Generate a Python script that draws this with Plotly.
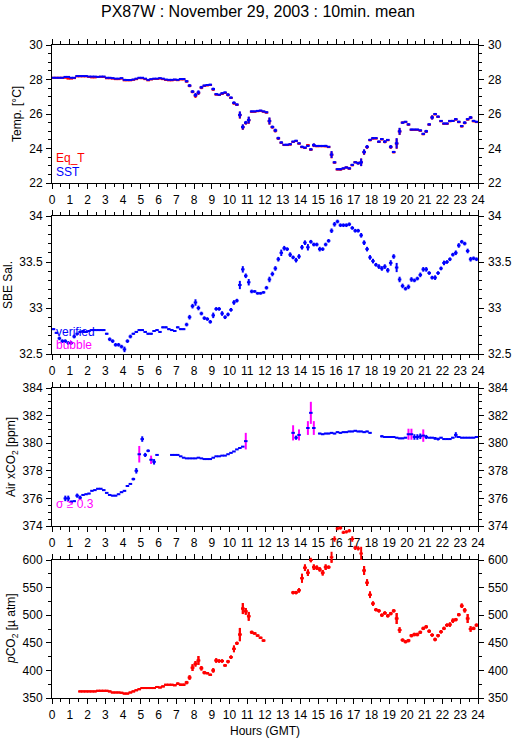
import plotly.graph_objects as go

# ---------------- data (10-min means, hours GMT) ----------------
hours = [round((i + 0.5) / 6, 4) for i in range(144)]
hour_ticks = list(range(0, 25))

sst = [28.10, 28.10, 28.10, 28.10, 28.15, 28.15, 28.10, 28.10, 28.20, 28.20, 28.20, 28.20,
       28.17, 28.17, 28.17, 28.15, 28.17, 28.17, 28.10, 28.10, 28.08, 28.05, 28.05, 28.08,
       27.98, 27.97, 27.97, 28.00, 28.05, 28.10, 28.10, 28.05, 27.98, 28.02, 28.05, 28.05,
       28.08, 28.05, 28.00, 27.98, 27.98, 28.00, 27.98, 28.03, 28.03, 27.90, 27.65, 27.30,
       27.10, 27.25, 27.55, 27.65, 27.68, 27.70, 27.45, 27.15, 27.12, 27.20, 27.25, 27.12,
       26.95, 26.65, 26.55, 25.95, 25.25, 25.50, 25.65, 26.15, 26.15, 26.18, 26.20, 26.15,
       26.10, 25.60, 25.25, 25.05, 24.60, 24.35, 24.22, 24.22, 24.25, 24.40, 24.45, 24.30,
       24.10, 24.05, 24.15, 23.95, 24.20, 24.15, 24.15, 24.15, 24.15, 24.10, 23.65, 23.20,
       22.80, 22.80, 22.85, 22.90, 22.85, 23.05, 23.20, 23.15, 23.20, 23.80, 24.10, 24.50,
       24.60, 24.60, 24.40, 24.55, 24.40, 24.50, 24.10, 23.80, 24.30, 25.00, 25.50, 25.55,
       25.40, 25.10, 25.10, 25.10, 25.05, 24.85, 25.00, 25.40, 25.80, 26.00, 25.85, 25.60,
       25.45, 25.45, 25.60, 25.60, 25.70, 25.55, 25.30, 25.50, 25.70, 25.80, 25.60, 25.55]

eq_t = [28.10, 28.10, 28.10, 28.10, 28.10, 28.05, 28.05, 28.08, 28.18, 28.18, 28.18, 28.18,
        28.15, 28.12, 28.12, 28.15, 28.15, 28.15, 28.07, 28.07, 28.05, 28.02, 28.02, 28.05,
        27.95, 27.95, 27.95, 27.98, 28.02, 28.08, 28.07, 28.02, 27.95, 28.00, 28.03, 28.03,
        28.05, 28.02, 27.97, 27.95, 27.95, 27.98, 27.96, 28.00, 28.00, 27.88, 27.63, 27.28,
        27.05, 27.22, 27.52, 27.63, 27.66, 27.68, 27.42, 27.13, 27.10, 27.17, 27.22, 27.10,
        26.93, 26.62, 26.53, 25.93, 25.23, 25.48, 25.63, 26.13, 26.13, 26.16, 26.18, 26.13,
        26.08, 25.58, 25.23, 25.03, 24.58, 24.33, 24.20, 24.20, 24.23, 24.38, 24.43, 24.28,
        24.08, 24.03, 24.20, 23.93, 24.18, 24.13, 24.13, 24.13, 24.13, 24.08, 23.63, 23.18,
        22.78, 22.78, 22.83, 22.90, 22.83, 23.03, 23.20, 23.15, 23.20, 23.78, 24.08, 24.48,
        24.58, 24.58, 24.38, 24.53, 24.38, 24.48, 24.08, 23.78, 24.28, 24.98, 25.50, 25.53,
        25.38, 25.08, 25.08, 25.08, 25.03, 24.83, 24.98, 25.38, 25.80, 25.98, 25.83, 25.58,
        25.43, 25.43, 25.58, 25.60, 25.68, 25.53, 25.28, 25.48, 25.68, 25.78, 25.58, 25.53]

temp_std = [
    0.02, 0.02, 0.02, 0.02, 0.02, 0.02, 0.02, 0.02, 0.02, 0.02, 0.02, 0.02,
    0.02, 0.02, 0.02, 0.02, 0.02, 0.02, 0.02, 0.02, 0.02, 0.02, 0.02, 0.02,
    0.02, 0.02, 0.02, 0.02, 0.02, 0.02, 0.02, 0.02, 0.02, 0.02, 0.02, 0.02,
    0.02, 0.02, 0.02, 0.02, 0.02, 0.02, 0.02, 0.02, 0.02, 0.06, 0.08, 0.08,
    0.12, 0.12, 0.08, 0.05, 0.05, 0.05, 0.08, 0.06, 0.05, 0.06, 0.05, 0.08,
    0.06, 0.08, 0.06, 0.20, 0.15, 0.10, 0.20, 0.05, 0.04, 0.04, 0.04, 0.04,
    0.05, 0.20, 0.08, 0.10, 0.08, 0.06, 0.04, 0.05, 0.06, 0.05, 0.05, 0.05,
    0.06, 0.06, 0.06, 0.06, 0.10, 0.05, 0.04, 0.04, 0.06, 0.04, 0.20, 0.06,
    0.05, 0.06, 0.05, 0.05, 0.06, 0.06, 0.05, 0.08, 0.22, 0.15, 0.10, 0.06,
    0.06, 0.05, 0.06, 0.06, 0.08, 0.05, 0.10, 0.06, 0.30, 0.20, 0.06, 0.05,
    0.06, 0.05, 0.04, 0.04, 0.05, 0.06, 0.08, 0.06, 0.12, 0.06, 0.06, 0.05,
    0.05, 0.05, 0.05, 0.05, 0.06, 0.06, 0.06, 0.08, 0.06, 0.08, 0.06, 0.05]

salinity = [32.77, 32.73, 32.67, 32.64, 32.64, 32.62, 32.62, 32.69, 32.72, 32.74, 32.75, 32.74,
            32.75, 32.76, 32.76, 32.76, 32.76, 32.76, 32.72, 32.66, 32.64, 32.60, 32.60, 32.58,
            32.55, 32.64, 32.69, 32.72, 32.74, 32.76, 32.76, 32.74, 32.72, 32.72, 32.75, 32.76,
            32.74, 32.79, 32.79, 32.77, 32.76, 32.75, 32.79, 32.77, 32.77, 32.82, 32.90, 33.02,
            33.06, 33.00, 32.94, 32.89, 32.88, 32.85, 32.92, 32.99, 32.99, 32.94, 32.90, 32.93,
            32.98, 33.06, 33.08, 33.25, 33.42, 33.35, 33.28, 33.18, 33.18, 33.16, 33.16, 33.17,
            33.22, 33.31, 33.37, 33.43, 33.53, 33.60, 33.65, 33.64, 33.58, 33.55, 33.52, 33.56,
            33.66, 33.71, 33.66, 33.72, 33.69, 33.69, 33.64, 33.64, 33.69, 33.73, 33.84, 33.91,
            33.94, 33.90, 33.90, 33.90, 33.91, 33.87, 33.84, 33.84, 33.79, 33.71, 33.64, 33.55,
            33.51, 33.47, 33.45, 33.43, 33.45, 33.41, 33.49, 33.56, 33.44, 33.31, 33.24, 33.21,
            33.23, 33.31, 33.30, 33.32, 33.36, 33.42, 33.42, 33.38, 33.33, 33.33, 33.38, 33.43,
            33.49, 33.50, 33.53, 33.58, 33.60, 33.68, 33.72, 33.70, 33.62, 33.53, 33.54, 33.53]

sal_std = [0.01, 0.01, 0.02, 0.02, 0.02, 0.02, 0.02, 0.02, 0.01, 0.01, 0.01, 0.01,
           0.01, 0.01, 0.01, 0.01, 0.01, 0.01, 0.01, 0.02, 0.02, 0.02, 0.02, 0.02,
           0.03, 0.02, 0.02, 0.01, 0.01, 0.01, 0.01, 0.01, 0.01, 0.01, 0.01, 0.01,
           0.01, 0.01, 0.01, 0.01, 0.01, 0.01, 0.01, 0.01, 0.01, 0.02, 0.025, 0.025,
           0.035, 0.025, 0.02, 0.02, 0.02, 0.02, 0.03, 0.02, 0.02, 0.025, 0.02, 0.02,
           0.02, 0.025, 0.02, 0.045, 0.035, 0.025, 0.035, 0.02, 0.015, 0.015, 0.015, 0.015,
           0.02, 0.03, 0.025, 0.025, 0.025, 0.035, 0.025, 0.02, 0.025, 0.02, 0.025, 0.025,
           0.025, 0.025, 0.035, 0.02, 0.02, 0.02, 0.025, 0.02, 0.02, 0.02, 0.025, 0.025,
           0.02, 0.02, 0.02, 0.02, 0.02, 0.02, 0.02, 0.02, 0.025, 0.025, 0.025, 0.025,
           0.025, 0.02, 0.025, 0.025, 0.025, 0.025, 0.03, 0.025, 0.05, 0.03, 0.025, 0.02,
           0.025, 0.025, 0.02, 0.02, 0.025, 0.025, 0.025, 0.02, 0.02, 0.025, 0.02, 0.02,
           0.025, 0.02, 0.02, 0.02, 0.025, 0.025, 0.02, 0.02, 0.025, 0.025, 0.02, 0.02]

N = None
air_xco2 = [N, N, N, N, 376.00, 376.00, 375.75, 375.80, 376.20, 376.05, 376.25, 376.30,
            376.35, 376.55, 376.60, 376.70, 376.70, 376.60, 376.40, 376.25, 376.20, 376.20, 376.30, 376.45,
            376.55, 376.90, 377.05, 377.40, 378.00, 379.20, 380.30, 379.15, 379.45, 378.80, 378.65, 379.15,
            N, N, N, N, 379.15, 379.15, 379.15, 379.05, 378.95, 378.90, 378.90, 378.90,
            378.90, 378.95, 378.90, 378.85, 378.85, 378.85, 378.95, 379.05, 379.05, 379.10, 379.10, 379.20,
            379.30, 379.40, 379.55, 379.65, 379.75, 380.15, N, N, N, N, N, N,
            N, N, N, N, N, N, N, N, N, 380.75, 380.40, 380.60,
            N, N, 381.10, 382.20, 381.10, N, 380.70, 380.65, 380.70, 380.70, 380.75, 380.70,
            380.80, 380.75, 380.80, 380.80, 380.85, 380.85, 380.90, 380.85, 380.85, 380.80, 380.85, 380.75,
            N, N, N, 380.50, 380.45, 380.45, 380.45, 380.45, 380.40, 380.35, 380.35, 380.40,
            380.65, 380.65, 380.45, 380.45, 380.50, 380.55, 380.45, 380.40, 380.40, 380.35, 380.30, 380.40,
            380.30, 380.30, 380.30, 380.40, 380.60, 380.45, 380.40, 380.40, 380.40, 380.40, 380.40, 380.45]

xco2_std = [N, N, N, N, 0.20, 0.20, 0.10, 0.05, 0.15, 0.15, 0.05, 0.05,
            0.05, 0.05, 0.05, 0.05, 0.05, 0.05, 0.05, 0.05, 0.05, 0.05, 0.05, 0.05,
            0.05, 0.05, 0.05, 0.10, 0.20, 0.60, 0.20, 0.15, 0.10, 0.30, 0.20, 0.05,
            N, N, N, N, 0.03, 0.03, 0.03, 0.03, 0.03, 0.03, 0.03, 0.03,
            0.03, 0.03, 0.03, 0.03, 0.03, 0.03, 0.03, 0.03, 0.03, 0.03, 0.03, 0.03,
            0.03, 0.03, 0.03, 0.03, 0.03, 0.60, N, N, N, N, N, N,
            N, N, N, N, N, N, N, N, N, 0.55, 0.15, 0.40,
            N, N, 0.50, 0.80, 0.50, N, 0.05, 0.05, 0.05, 0.05, 0.05, 0.05,
            0.05, 0.05, 0.05, 0.05, 0.05, 0.05, 0.05, 0.05, 0.05, 0.05, 0.05, 0.05,
            N, N, N, 0.08, 0.05, 0.05, 0.05, 0.05, 0.05, 0.05, 0.05, 0.05,
            0.40, 0.40, 0.20, 0.20, 0.20, 0.45, 0.15, 0.05, 0.05, 0.10, 0.10, 0.05,
            0.05, 0.05, 0.05, 0.05, 0.20, 0.05, 0.05, 0.05, 0.05, 0.05, 0.05, 0.05]

pco2 = [N, N, N, N, N, N, N, N, N, 362, 362, 362,
        362, 362, 362, 363, 363, 363, 363, 362, 360, 360, 360, 359.5,
        358, 358, 360, 362, 364, 366, 368, 368, 368, 368, 368, 370,
        369, 371, 374, 374, 374, 373, 376, 374, 374, 378, 387, 405,
        412, 418, 404, 396, 395, 392, 400, 418, 417, 417, 409, 416,
        424, 439, 449, 465, 512, 507, 498, 469, 467, 463, 459, 454,
        N, N, N, N, N, N, N, N, N, 541, 541, 545,
        567, 586, 577, 600, 587, 586, 583, 577, 587, 587, 605, 638,
        657, 658, 650, 651, 653, 638, 622, 621, 612, 581, 559, 537,
        521, 510, 508, 500, 504, 499, 503, 508, 494, 473, 455, 452,
        454, 463, 465, 465, 469, 476, 479, 471, 464, 456, 463, 470,
        476, 482, 483, 490, 492, 501, 517, 509, 494, 475, 476, 482]

pco2_std = [N, N, N, N, N, N, N, N, N, 1, 1, 1,
            1, 1, 1, 1, 1, 1, 1, 1, 1, 1, 1, 1,
            1, 1, 1, 1, 1, 1, 1, 1, 1, 1, 1, 1,
            1, 1, 1, 1, 1, 1, 2, 2, 2, 3, 4, 6,
            5, 8, 4, 3, 2, 2, 4, 4, 3, 3, 2, 3,
            3, 6, 3, 12, 10, 6, 8, 3, 2, 2, 2, 2,
            N, N, N, N, N, N, N, N, N, 3, 3, 4,
            8, 6, 6, 4, 5, 4, 4, 5, 5, 3, 10, 5,
            3, 3, 3, 3, 3, 5, 4, 4, 12, 8, 6, 6,
            4, 3, 3, 3, 3, 3, 3, 3, 10, 5, 3, 3,
            3, 3, 3, 3, 3, 3, 3, 3, 3, 3, 3, 3,
            3, 3, 4, 4, 3, 3, 4, 4, 8, 5, 3, 3]

sigma_flag = 0.3

# ---------------- styling / layout ----------------
W, H = 515, 739
FONT = "Liberation Sans, Arial, Helvetica, sans-serif"
BLUE, RED, MAG = "#0000ff", "#ff0000", "#ff00ff"
XL, XR = 52, 478
panels = [(45, 183), (216, 354), (388, 526), (560, 698)]
x_dom = [XL / W, XR / W]


def ydom(p):
    return [1 - p[1] / H, 1 - p[0] / H]


def cross(x, y, s, color, xa, ya, bar=None):
    return go.Scatter(
        x=x, y=y, mode="markers", xaxis=xa, yaxis=ya,
        marker=dict(size=1, color="rgba(0,0,0,0)"),
        error_x=dict(type="constant", value=0.1, width=0, thickness=2, color=color),
        error_y=dict(type="data", array=s, width=0, thickness=2, color=bar or color),
        showlegend=False, hoverinfo="skip")


fig = go.Figure()
fig.add_trace(cross(hours, eq_t, temp_std, RED, "x", "y"))
fig.add_trace(cross(hours, sst, temp_std, BLUE, "x", "y"))
fig.add_trace(cross(hours, salinity, sal_std, BLUE, "x2", "y2"))
ok_y = [v if (v is not None and s < sigma_flag) else None for v, s in zip(air_xco2, xco2_std)]
ok_s = [s if (s is not None and s < sigma_flag) else 0 for s in xco2_std]
bad_y = [v if (v is not None and s >= sigma_flag) else None for v, s in zip(air_xco2, xco2_std)]
bad_s = [s if (s is not None and s >= sigma_flag) else 0 for s in xco2_std]
fig.add_trace(cross(hours, ok_y, ok_s, BLUE, "x3", "y3"))
fig.add_trace(cross(hours, bad_y, bad_s, BLUE, "x3", "y3", bar=MAG))
pco2_s = [s if s is not None else 0 for s in pco2_std]
fig.add_trace(cross(hours, pco2, pco2_s, RED, "x4", "y4"))
# same series again on a hidden, taller axis pair with identical scale, so that
# values above 600 spill over the top of the panel as in the original
fig.add_trace(cross(hours, pco2, pco2_s, RED, "x5", "y9"))

tickfont = dict(family=FONT, size=12, color="black")
yfont = dict(family=FONT, size=12, color="black")

ranges = [[22, 30], [32.5, 34], [374, 384], [350, 600]]
dticks = [2, 0.5, 2, 50]
minors = [0.5, 0.1, 0.5, 25]

layout = dict(width=W, height=H, paper_bgcolor="white", plot_bgcolor="rgba(0,0,0,0)",
              margin=dict(l=0, r=0, t=0, b=0, autoexpand=False), showlegend=False,
              font=dict(family=FONT, color="black"))

for k in range(4):
    xs = "" if k == 0 else str(k + 1)
    ys = "" if k == 0 else str(k + 1)
    layout["xaxis" + xs] = dict(
        domain=x_dom, range=[0, 24], anchor="y" + ys, tickmode="array", tickvals=hour_ticks,
        ticks="outside", ticklen=5, tickcolor="black", showline=True, linecolor="black",
        linewidth=1, mirror="ticks", showgrid=False, zeroline=False, tickfont=tickfont,
        ticklabelstandoff=1,
        minor=dict(dtick=0.5, tick0=0, ticks="outside", ticklen=3, tickcolor="black", showgrid=False))
    layout["yaxis" + ys] = dict(
        domain=ydom(panels[k]), range=ranges[k], anchor="x" + xs, dtick=dticks[k], tick0=ranges[k][0],
        ticks="outside", ticklen=5, tickcolor="black", showline=True, linecolor="black",
        linewidth=1, mirror="ticks", showgrid=False, zeroline=False, tickfont=yfont,
        ticklabelstandoff=1,
        minor=dict(dtick=minors[k], ticks="outside", ticklen=3, tickcolor="black", showgrid=False))
    layout["yaxis" + str(k + 5)] = dict(
        domain=ydom(panels[k]), range=ranges[k], anchor="x" + xs, overlaying="y" + ys,
        side="right", dtick=dticks[k], tick0=ranges[k][0], ticks="", showline=False,
        showgrid=False, zeroline=False, tickfont=yfont, ticklabelstandoff=9)

# hidden extended axes for the pCO2 overflow
d = ydom(panels[3])
ext_top = 670
d_top = d[0] + (d[1] - d[0]) * (ext_top - ranges[3][0]) / (ranges[3][1] - ranges[3][0])
layout["xaxis5"] = dict(domain=x_dom, range=[0, 24], anchor="y9", visible=False)
layout["yaxis9"] = dict(domain=[d[0], d_top], range=[ranges[3][0], ext_top], anchor="x5",
                        visible=False)

fig.update_layout(**layout)

for k in range(4):
    xs = "x" if k == 0 else "x" + str(k + 1)
    fig.add_trace(go.Scatter(x=[], y=[], xaxis=xs, yaxis="y" + str(k + 5), showlegend=False))


def ann(text, xpx, ypx, size=12, color="black", angle=0, xanchor="center"):
    fig.add_annotation(text=text, x=xpx / W, y=1 - ypx / H, xref="paper", yref="paper",
                       showarrow=False, textangle=angle, xanchor=xanchor, yanchor="middle",
                       font=dict(family=FONT, size=size, color=color))


ann("PX87W : November 29, 2003 : 10min. mean", 258, 12, size=16)
ann("Temp. [°C]", 17, 114, angle=-90)
ann("SBE Sal.", 8, 285, angle=-90)
ann("Air xCO<sub>2</sub> [ppm]", 12, 457, angle=-90)
ann("<i>p</i>CO<sub>2</sub> [µ atm]", 12, 629, angle=-90)
ann("Hours (GMT)", 265, 731)
ann("Eq_T", 54, 158, color=RED, xanchor="left")
ann("SST", 54, 172, color=BLUE, xanchor="left")
ann("verified", 54, 332, color=BLUE, xanchor="left")
ann("bubble", 54, 345, color=MAG, xanchor="left")
ann("σ ≥ 0.3", 54, 504, color=MAG, xanchor="left")

fig.write_html("out.html", config={"displayModeBar": False},
               post_script="document.body.style.margin='0px';")
